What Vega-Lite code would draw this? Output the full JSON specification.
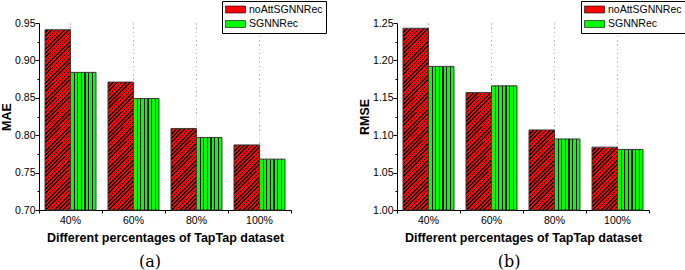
{
  "$schema": "https://vega.github.io/schema/vega-lite/v6.json",
  "padding": {"left": 0, "top": 0, "right": 0, "bottom": 0},
  "background": "#ffffff",
  "datasets": {
    "mae": [
      {"pct": "40%", "model": "noAttSGNNRec", "value": 0.941},
      {"pct": "40%", "model": "SGNNRec", "value": 0.884},
      {"pct": "60%", "model": "noAttSGNNRec", "value": 0.871},
      {"pct": "60%", "model": "SGNNRec", "value": 0.849},
      {"pct": "80%", "model": "noAttSGNNRec", "value": 0.809},
      {"pct": "80%", "model": "SGNNRec", "value": 0.797},
      {"pct": "100%", "model": "noAttSGNNRec", "value": 0.787},
      {"pct": "100%", "model": "SGNNRec", "value": 0.768}
    ],
    "rmse": [
      {"pct": "40%", "model": "noAttSGNNRec", "value": 1.243},
      {"pct": "40%", "model": "SGNNRec", "value": 1.192},
      {"pct": "60%", "model": "noAttSGNNRec", "value": 1.157},
      {"pct": "60%", "model": "SGNNRec", "value": 1.166},
      {"pct": "80%", "model": "noAttSGNNRec", "value": 1.107},
      {"pct": "80%", "model": "SGNNRec", "value": 1.095},
      {"pct": "100%", "model": "noAttSGNNRec", "value": 1.084},
      {"pct": "100%", "model": "SGNNRec", "value": 1.081}
    ]
  },
  "spacing": 31,
  "resolve": {"scale": {"fill": "independent", "y": "independent"}, "legend": {"fill": "independent"}},
  "hconcat": [
    {
      "width": 252,
      "height": 187,
      "data": {"name": "mae"},
      "title": {"text": "(a)", "orient": "bottom", "anchor": "middle", "frame": "group", "offset": 10, "dx": -15},
      "resolve": {"axis": {"y": "independent"}},
      "encoding": {
        "x": {"field": "pct", "type": "nominal", "sort": ["40%", "60%", "80%", "100%"], "scale": {"paddingInner": 0, "paddingOuter": 0}, "axis": {"title": "Different percentages of TapTap dataset", "grid": false, "labelAngle": 0, "bandPosition": 1, "tickExtra": true, "tickSize": 3, "labelPadding": 2, "titlePadding": 6}},
        "xOffset": {"field": "model", "type": "nominal", "sort": ["noAttSGNNRec", "SGNNRec"], "scale": {"domain": ["noAttSGNNRec", "SGNNRec"], "paddingInner": 0, "paddingOuter": 0.2353}}
      },
      "layer": [
        {
          "mark": {"type": "bar", "strokeWidth": 0},
          "encoding": {
            "y": {"field": "value", "type": "quantitative", "scale": {"domain": [0.7, 0.95], "nice": false, "zero": false}, "axis": {"title": "MAE", "grid": false, "labelPadding": 0, "titlePadding": 1, "values": [0.7, 0.725, 0.75, 0.775, 0.8, 0.825, 0.85, 0.875, 0.9, 0.925, 0.95], "labelExpr": "round(datum.value*40)%2===0 ? format(datum.value,'.2f') : ''", "tickSize": {"condition": {"test": "round(datum.value*40)%2===0", "value": 4}, "value": 2}}},
            "y2": {"datum": 0.7},
            "fill": {"field": "model", "type": "nominal", "scale": {"domain": ["noAttSGNNRec", "SGNNRec"], "range": ["#ff0000", "#00ff00"]}, "legend": {"legendX": 183}}
          }
        },
        {
          "transform": [{"filter": "datum.model === 'SGNNRec'"}],
          "mark": {"type": "bar", "strokeWidth": 0, "fill": {"gradient": "linear", "x1": 0, "y1": 0, "x2": 1, "y2": 0, "stops": [
            {"offset": 0, "color": "rgba(0,0,0,0)"}, {"offset": 0.1189, "color": "rgba(0,0,0,0)"}, {"offset": 0.1189, "color": "#000"}, {"offset": 0.1669, "color": "#000"}, {"offset": 0.1669, "color": "rgba(0,0,0,0)"},
            {"offset": 0.2617, "color": "rgba(0,0,0,0)"}, {"offset": 0.2617, "color": "#000"}, {"offset": 0.3097, "color": "#000"}, {"offset": 0.3097, "color": "rgba(0,0,0,0)"},
            {"offset": 0.4046, "color": "rgba(0,0,0,0)"}, {"offset": 0.4046, "color": "#000"}, {"offset": 0.4526, "color": "#000"}, {"offset": 0.4526, "color": "rgba(0,0,0,0)"},
            {"offset": 0.5474, "color": "rgba(0,0,0,0)"}, {"offset": 0.5474, "color": "#000"}, {"offset": 0.5954, "color": "#000"}, {"offset": 0.5954, "color": "rgba(0,0,0,0)"},
            {"offset": 0.6903, "color": "rgba(0,0,0,0)"}, {"offset": 0.6903, "color": "#000"}, {"offset": 0.7383, "color": "#000"}, {"offset": 0.7383, "color": "rgba(0,0,0,0)"},
            {"offset": 0.8331, "color": "rgba(0,0,0,0)"}, {"offset": 0.8331, "color": "#000"}, {"offset": 0.8811, "color": "#000"}, {"offset": 0.8811, "color": "rgba(0,0,0,0)"},
            {"offset": 1, "color": "rgba(0,0,0,0)"}
          ]}},
          "encoding": {"y": {"field": "value", "type": "quantitative", "axis": null}, "y2": {"datum": 0.7}}
        },
        {
          "transform": [{"filter": "datum.model === 'noAttSGNNRec'"}],
          "mark": {"type": "bar", "strokeWidth": 0, "fill": {"gradient": "linear", "x1": 0, "y1": 0, "x2": 0.1521, "y2": 1.1156, "stops": [
          {"offset": 0, "color": "#000"}, {"offset": 0.0075, "color": "#000"}, {"offset": 0.0075, "color": "rgba(0,0,0,0)"}, {"offset": 0.02, "color": "rgba(0,0,0,0)"},
          {"offset": 0.02, "color": "#000"}, {"offset": 0.0275, "color": "#000"}, {"offset": 0.0275, "color": "rgba(0,0,0,0)"}, {"offset": 0.04, "color": "rgba(0,0,0,0)"},
          {"offset": 0.04, "color": "#000"}, {"offset": 0.0475, "color": "#000"}, {"offset": 0.0475, "color": "rgba(0,0,0,0)"}, {"offset": 0.06, "color": "rgba(0,0,0,0)"},
          {"offset": 0.06, "color": "#000"}, {"offset": 0.0675, "color": "#000"}, {"offset": 0.0675, "color": "rgba(0,0,0,0)"}, {"offset": 0.08, "color": "rgba(0,0,0,0)"},
          {"offset": 0.08, "color": "#000"}, {"offset": 0.0875, "color": "#000"}, {"offset": 0.0875, "color": "rgba(0,0,0,0)"}, {"offset": 0.1, "color": "rgba(0,0,0,0)"},
          {"offset": 0.1, "color": "#000"}, {"offset": 0.1075, "color": "#000"}, {"offset": 0.1075, "color": "rgba(0,0,0,0)"}, {"offset": 0.12, "color": "rgba(0,0,0,0)"},
          {"offset": 0.12, "color": "#000"}, {"offset": 0.1275, "color": "#000"}, {"offset": 0.1275, "color": "rgba(0,0,0,0)"}, {"offset": 0.14, "color": "rgba(0,0,0,0)"},
          {"offset": 0.14, "color": "#000"}, {"offset": 0.1475, "color": "#000"}, {"offset": 0.1475, "color": "rgba(0,0,0,0)"}, {"offset": 0.16, "color": "rgba(0,0,0,0)"},
          {"offset": 0.16, "color": "#000"}, {"offset": 0.1675, "color": "#000"}, {"offset": 0.1675, "color": "rgba(0,0,0,0)"}, {"offset": 0.18, "color": "rgba(0,0,0,0)"},
          {"offset": 0.18, "color": "#000"}, {"offset": 0.1875, "color": "#000"}, {"offset": 0.1875, "color": "rgba(0,0,0,0)"}, {"offset": 0.2, "color": "rgba(0,0,0,0)"},
          {"offset": 0.2, "color": "#000"}, {"offset": 0.2075, "color": "#000"}, {"offset": 0.2075, "color": "rgba(0,0,0,0)"}, {"offset": 0.22, "color": "rgba(0,0,0,0)"},
          {"offset": 0.22, "color": "#000"}, {"offset": 0.2275, "color": "#000"}, {"offset": 0.2275, "color": "rgba(0,0,0,0)"}, {"offset": 0.24, "color": "rgba(0,0,0,0)"},
          {"offset": 0.24, "color": "#000"}, {"offset": 0.2475, "color": "#000"}, {"offset": 0.2475, "color": "rgba(0,0,0,0)"}, {"offset": 0.26, "color": "rgba(0,0,0,0)"},
          {"offset": 0.26, "color": "#000"}, {"offset": 0.2675, "color": "#000"}, {"offset": 0.2675, "color": "rgba(0,0,0,0)"}, {"offset": 0.28, "color": "rgba(0,0,0,0)"},
          {"offset": 0.28, "color": "#000"}, {"offset": 0.2875, "color": "#000"}, {"offset": 0.2875, "color": "rgba(0,0,0,0)"}, {"offset": 0.3, "color": "rgba(0,0,0,0)"},
          {"offset": 0.3, "color": "#000"}, {"offset": 0.3075, "color": "#000"}, {"offset": 0.3075, "color": "rgba(0,0,0,0)"}, {"offset": 0.32, "color": "rgba(0,0,0,0)"},
          {"offset": 0.32, "color": "#000"}, {"offset": 0.3275, "color": "#000"}, {"offset": 0.3275, "color": "rgba(0,0,0,0)"}, {"offset": 0.34, "color": "rgba(0,0,0,0)"},
          {"offset": 0.34, "color": "#000"}, {"offset": 0.3475, "color": "#000"}, {"offset": 0.3475, "color": "rgba(0,0,0,0)"}, {"offset": 0.36, "color": "rgba(0,0,0,0)"},
          {"offset": 0.36, "color": "#000"}, {"offset": 0.3675, "color": "#000"}, {"offset": 0.3675, "color": "rgba(0,0,0,0)"}, {"offset": 0.38, "color": "rgba(0,0,0,0)"},
          {"offset": 0.38, "color": "#000"}, {"offset": 0.3875, "color": "#000"}, {"offset": 0.3875, "color": "rgba(0,0,0,0)"}, {"offset": 0.4, "color": "rgba(0,0,0,0)"},
          {"offset": 0.4, "color": "#000"}, {"offset": 0.4075, "color": "#000"}, {"offset": 0.4075, "color": "rgba(0,0,0,0)"}, {"offset": 0.42, "color": "rgba(0,0,0,0)"},
          {"offset": 0.42, "color": "#000"}, {"offset": 0.4275, "color": "#000"}, {"offset": 0.4275, "color": "rgba(0,0,0,0)"}, {"offset": 0.44, "color": "rgba(0,0,0,0)"},
          {"offset": 0.44, "color": "#000"}, {"offset": 0.4475, "color": "#000"}, {"offset": 0.4475, "color": "rgba(0,0,0,0)"}, {"offset": 0.46, "color": "rgba(0,0,0,0)"},
          {"offset": 0.46, "color": "#000"}, {"offset": 0.4675, "color": "#000"}, {"offset": 0.4675, "color": "rgba(0,0,0,0)"}, {"offset": 0.48, "color": "rgba(0,0,0,0)"},
          {"offset": 0.48, "color": "#000"}, {"offset": 0.4875, "color": "#000"}, {"offset": 0.4875, "color": "rgba(0,0,0,0)"}, {"offset": 0.5, "color": "rgba(0,0,0,0)"},
          {"offset": 0.5, "color": "#000"}, {"offset": 0.5075, "color": "#000"}, {"offset": 0.5075, "color": "rgba(0,0,0,0)"}, {"offset": 0.52, "color": "rgba(0,0,0,0)"},
          {"offset": 0.52, "color": "#000"}, {"offset": 0.5275, "color": "#000"}, {"offset": 0.5275, "color": "rgba(0,0,0,0)"}, {"offset": 0.54, "color": "rgba(0,0,0,0)"},
          {"offset": 0.54, "color": "#000"}, {"offset": 0.5475, "color": "#000"}, {"offset": 0.5475, "color": "rgba(0,0,0,0)"}, {"offset": 0.56, "color": "rgba(0,0,0,0)"},
          {"offset": 0.56, "color": "#000"}, {"offset": 0.5675, "color": "#000"}, {"offset": 0.5675, "color": "rgba(0,0,0,0)"}, {"offset": 0.58, "color": "rgba(0,0,0,0)"},
          {"offset": 0.58, "color": "#000"}, {"offset": 0.5875, "color": "#000"}, {"offset": 0.5875, "color": "rgba(0,0,0,0)"}, {"offset": 0.6, "color": "rgba(0,0,0,0)"},
          {"offset": 0.6, "color": "#000"}, {"offset": 0.6075, "color": "#000"}, {"offset": 0.6075, "color": "rgba(0,0,0,0)"}, {"offset": 0.62, "color": "rgba(0,0,0,0)"},
          {"offset": 0.62, "color": "#000"}, {"offset": 0.6275, "color": "#000"}, {"offset": 0.6275, "color": "rgba(0,0,0,0)"}, {"offset": 0.64, "color": "rgba(0,0,0,0)"},
          {"offset": 0.64, "color": "#000"}, {"offset": 0.6475, "color": "#000"}, {"offset": 0.6475, "color": "rgba(0,0,0,0)"}, {"offset": 0.66, "color": "rgba(0,0,0,0)"},
          {"offset": 0.66, "color": "#000"}, {"offset": 0.6675, "color": "#000"}, {"offset": 0.6675, "color": "rgba(0,0,0,0)"}, {"offset": 0.68, "color": "rgba(0,0,0,0)"},
          {"offset": 0.68, "color": "#000"}, {"offset": 0.6875, "color": "#000"}, {"offset": 0.6875, "color": "rgba(0,0,0,0)"}, {"offset": 0.7, "color": "rgba(0,0,0,0)"},
          {"offset": 0.7, "color": "#000"}, {"offset": 0.7075, "color": "#000"}, {"offset": 0.7075, "color": "rgba(0,0,0,0)"}, {"offset": 0.72, "color": "rgba(0,0,0,0)"},
          {"offset": 0.72, "color": "#000"}, {"offset": 0.7275, "color": "#000"}, {"offset": 0.7275, "color": "rgba(0,0,0,0)"}, {"offset": 0.74, "color": "rgba(0,0,0,0)"},
          {"offset": 0.74, "color": "#000"}, {"offset": 0.7475, "color": "#000"}, {"offset": 0.7475, "color": "rgba(0,0,0,0)"}, {"offset": 0.76, "color": "rgba(0,0,0,0)"},
          {"offset": 0.76, "color": "#000"}, {"offset": 0.7675, "color": "#000"}, {"offset": 0.7675, "color": "rgba(0,0,0,0)"}, {"offset": 0.78, "color": "rgba(0,0,0,0)"},
          {"offset": 0.78, "color": "#000"}, {"offset": 0.7875, "color": "#000"}, {"offset": 0.7875, "color": "rgba(0,0,0,0)"}, {"offset": 0.8, "color": "rgba(0,0,0,0)"},
          {"offset": 0.8, "color": "#000"}, {"offset": 0.8075, "color": "#000"}, {"offset": 0.8075, "color": "rgba(0,0,0,0)"}, {"offset": 0.82, "color": "rgba(0,0,0,0)"},
          {"offset": 0.82, "color": "#000"}, {"offset": 0.8275, "color": "#000"}, {"offset": 0.8275, "color": "rgba(0,0,0,0)"}, {"offset": 0.84, "color": "rgba(0,0,0,0)"},
          {"offset": 0.84, "color": "#000"}, {"offset": 0.8475, "color": "#000"}, {"offset": 0.8475, "color": "rgba(0,0,0,0)"}, {"offset": 0.86, "color": "rgba(0,0,0,0)"},
          {"offset": 0.86, "color": "#000"}, {"offset": 0.8675, "color": "#000"}, {"offset": 0.8675, "color": "rgba(0,0,0,0)"}, {"offset": 0.88, "color": "rgba(0,0,0,0)"},
          {"offset": 0.88, "color": "#000"}, {"offset": 0.8875, "color": "#000"}, {"offset": 0.8875, "color": "rgba(0,0,0,0)"}, {"offset": 0.9, "color": "rgba(0,0,0,0)"},
          {"offset": 0.9, "color": "#000"}, {"offset": 0.9075, "color": "#000"}, {"offset": 0.9075, "color": "rgba(0,0,0,0)"}, {"offset": 0.92, "color": "rgba(0,0,0,0)"},
          {"offset": 0.92, "color": "#000"}, {"offset": 0.9275, "color": "#000"}, {"offset": 0.9275, "color": "rgba(0,0,0,0)"}, {"offset": 0.94, "color": "rgba(0,0,0,0)"},
          {"offset": 0.94, "color": "#000"}, {"offset": 0.9475, "color": "#000"}, {"offset": 0.9475, "color": "rgba(0,0,0,0)"}, {"offset": 0.96, "color": "rgba(0,0,0,0)"},
          {"offset": 0.96, "color": "#000"}, {"offset": 0.9675, "color": "#000"}, {"offset": 0.9675, "color": "rgba(0,0,0,0)"}, {"offset": 0.98, "color": "rgba(0,0,0,0)"},
          {"offset": 0.98, "color": "#000"}, {"offset": 0.9875, "color": "#000"}, {"offset": 0.9875, "color": "rgba(0,0,0,0)"}, {"offset": 1, "color": "rgba(0,0,0,0)"}
          ]}},
          "encoding": {"y": {"datum": 0.95, "type": "quantitative", "axis": null}, "y2": {"datum": 0.7}}
        },
        {
          "transform": [{"filter": "datum.model === 'noAttSGNNRec'"}],
          "mark": {"type": "bar", "fill": "#ffffff", "strokeWidth": 0},
          "encoding": {"y": {"field": "value", "type": "quantitative", "axis": null}, "y2": {"datum": 0.95}}
        },
        {
          "mark": {"type": "bar", "fill": "transparent", "stroke": "#3a3a3a", "strokeWidth": 1},
          "encoding": {"y": {"field": "value", "type": "quantitative", "axis": null}, "y2": {"datum": 0.7}}
        }
      ]
    },
    {
      "width": 252,
      "height": 187,
      "data": {"name": "rmse"},
      "title": {"text": "(b)", "orient": "bottom", "anchor": "middle", "frame": "group", "offset": 10, "dx": -14},
      "resolve": {"axis": {"y": "independent"}},
      "encoding": {
        "x": {"field": "pct", "type": "nominal", "sort": ["40%", "60%", "80%", "100%"], "scale": {"paddingInner": 0, "paddingOuter": 0}, "axis": {"title": "Different percentages of TapTap dataset", "grid": false, "labelAngle": 0, "bandPosition": 1, "tickExtra": true, "tickSize": 3, "labelPadding": 2, "titlePadding": 6}},
        "xOffset": {"field": "model", "type": "nominal", "sort": ["noAttSGNNRec", "SGNNRec"], "scale": {"domain": ["noAttSGNNRec", "SGNNRec"], "paddingInner": 0, "paddingOuter": 0.2353}}
      },
      "layer": [
        {
          "mark": {"type": "bar", "strokeWidth": 0},
          "encoding": {
            "y": {"field": "value", "type": "quantitative", "scale": {"domain": [1.0, 1.25], "nice": false, "zero": false}, "axis": {"title": "RMSE", "grid": false, "labelPadding": 0, "titlePadding": 1, "values": [1, 1.025, 1.05, 1.075, 1.1, 1.125, 1.15, 1.175, 1.2, 1.225, 1.25], "labelExpr": "round(datum.value*40)%2===0 ? format(datum.value,'.2f') : ''", "tickSize": {"condition": {"test": "round(datum.value*40)%2===0", "value": 4}, "value": 2}}},
            "y2": {"datum": 1.0},
            "fill": {"field": "model", "type": "nominal", "scale": {"domain": ["noAttSGNNRec", "SGNNRec"], "range": ["#ff0000", "#00ff00"]}, "legend": {"legendX": 184}}
          }
        },
        {
          "transform": [{"filter": "datum.model === 'SGNNRec'"}],
          "mark": {"type": "bar", "strokeWidth": 0, "fill": {"gradient": "linear", "x1": 0, "y1": 0, "x2": 1, "y2": 0, "stops": [
            {"offset": 0, "color": "rgba(0,0,0,0)"}, {"offset": 0.1189, "color": "rgba(0,0,0,0)"}, {"offset": 0.1189, "color": "#000"}, {"offset": 0.1669, "color": "#000"}, {"offset": 0.1669, "color": "rgba(0,0,0,0)"},
            {"offset": 0.2617, "color": "rgba(0,0,0,0)"}, {"offset": 0.2617, "color": "#000"}, {"offset": 0.3097, "color": "#000"}, {"offset": 0.3097, "color": "rgba(0,0,0,0)"},
            {"offset": 0.4046, "color": "rgba(0,0,0,0)"}, {"offset": 0.4046, "color": "#000"}, {"offset": 0.4526, "color": "#000"}, {"offset": 0.4526, "color": "rgba(0,0,0,0)"},
            {"offset": 0.5474, "color": "rgba(0,0,0,0)"}, {"offset": 0.5474, "color": "#000"}, {"offset": 0.5954, "color": "#000"}, {"offset": 0.5954, "color": "rgba(0,0,0,0)"},
            {"offset": 0.6903, "color": "rgba(0,0,0,0)"}, {"offset": 0.6903, "color": "#000"}, {"offset": 0.7383, "color": "#000"}, {"offset": 0.7383, "color": "rgba(0,0,0,0)"},
            {"offset": 0.8331, "color": "rgba(0,0,0,0)"}, {"offset": 0.8331, "color": "#000"}, {"offset": 0.8811, "color": "#000"}, {"offset": 0.8811, "color": "rgba(0,0,0,0)"},
            {"offset": 1, "color": "rgba(0,0,0,0)"}
          ]}},
          "encoding": {"y": {"field": "value", "type": "quantitative", "axis": null}, "y2": {"datum": 1.0}}
        },
        {
          "transform": [{"filter": "datum.model === 'noAttSGNNRec'"}],
          "mark": {"type": "bar", "strokeWidth": 0, "fill": {"gradient": "linear", "x1": 0, "y1": 0, "x2": 0.1521, "y2": 1.1156, "stops": [
          {"offset": 0, "color": "#000"}, {"offset": 0.0075, "color": "#000"}, {"offset": 0.0075, "color": "rgba(0,0,0,0)"}, {"offset": 0.02, "color": "rgba(0,0,0,0)"},
          {"offset": 0.02, "color": "#000"}, {"offset": 0.0275, "color": "#000"}, {"offset": 0.0275, "color": "rgba(0,0,0,0)"}, {"offset": 0.04, "color": "rgba(0,0,0,0)"},
          {"offset": 0.04, "color": "#000"}, {"offset": 0.0475, "color": "#000"}, {"offset": 0.0475, "color": "rgba(0,0,0,0)"}, {"offset": 0.06, "color": "rgba(0,0,0,0)"},
          {"offset": 0.06, "color": "#000"}, {"offset": 0.0675, "color": "#000"}, {"offset": 0.0675, "color": "rgba(0,0,0,0)"}, {"offset": 0.08, "color": "rgba(0,0,0,0)"},
          {"offset": 0.08, "color": "#000"}, {"offset": 0.0875, "color": "#000"}, {"offset": 0.0875, "color": "rgba(0,0,0,0)"}, {"offset": 0.1, "color": "rgba(0,0,0,0)"},
          {"offset": 0.1, "color": "#000"}, {"offset": 0.1075, "color": "#000"}, {"offset": 0.1075, "color": "rgba(0,0,0,0)"}, {"offset": 0.12, "color": "rgba(0,0,0,0)"},
          {"offset": 0.12, "color": "#000"}, {"offset": 0.1275, "color": "#000"}, {"offset": 0.1275, "color": "rgba(0,0,0,0)"}, {"offset": 0.14, "color": "rgba(0,0,0,0)"},
          {"offset": 0.14, "color": "#000"}, {"offset": 0.1475, "color": "#000"}, {"offset": 0.1475, "color": "rgba(0,0,0,0)"}, {"offset": 0.16, "color": "rgba(0,0,0,0)"},
          {"offset": 0.16, "color": "#000"}, {"offset": 0.1675, "color": "#000"}, {"offset": 0.1675, "color": "rgba(0,0,0,0)"}, {"offset": 0.18, "color": "rgba(0,0,0,0)"},
          {"offset": 0.18, "color": "#000"}, {"offset": 0.1875, "color": "#000"}, {"offset": 0.1875, "color": "rgba(0,0,0,0)"}, {"offset": 0.2, "color": "rgba(0,0,0,0)"},
          {"offset": 0.2, "color": "#000"}, {"offset": 0.2075, "color": "#000"}, {"offset": 0.2075, "color": "rgba(0,0,0,0)"}, {"offset": 0.22, "color": "rgba(0,0,0,0)"},
          {"offset": 0.22, "color": "#000"}, {"offset": 0.2275, "color": "#000"}, {"offset": 0.2275, "color": "rgba(0,0,0,0)"}, {"offset": 0.24, "color": "rgba(0,0,0,0)"},
          {"offset": 0.24, "color": "#000"}, {"offset": 0.2475, "color": "#000"}, {"offset": 0.2475, "color": "rgba(0,0,0,0)"}, {"offset": 0.26, "color": "rgba(0,0,0,0)"},
          {"offset": 0.26, "color": "#000"}, {"offset": 0.2675, "color": "#000"}, {"offset": 0.2675, "color": "rgba(0,0,0,0)"}, {"offset": 0.28, "color": "rgba(0,0,0,0)"},
          {"offset": 0.28, "color": "#000"}, {"offset": 0.2875, "color": "#000"}, {"offset": 0.2875, "color": "rgba(0,0,0,0)"}, {"offset": 0.3, "color": "rgba(0,0,0,0)"},
          {"offset": 0.3, "color": "#000"}, {"offset": 0.3075, "color": "#000"}, {"offset": 0.3075, "color": "rgba(0,0,0,0)"}, {"offset": 0.32, "color": "rgba(0,0,0,0)"},
          {"offset": 0.32, "color": "#000"}, {"offset": 0.3275, "color": "#000"}, {"offset": 0.3275, "color": "rgba(0,0,0,0)"}, {"offset": 0.34, "color": "rgba(0,0,0,0)"},
          {"offset": 0.34, "color": "#000"}, {"offset": 0.3475, "color": "#000"}, {"offset": 0.3475, "color": "rgba(0,0,0,0)"}, {"offset": 0.36, "color": "rgba(0,0,0,0)"},
          {"offset": 0.36, "color": "#000"}, {"offset": 0.3675, "color": "#000"}, {"offset": 0.3675, "color": "rgba(0,0,0,0)"}, {"offset": 0.38, "color": "rgba(0,0,0,0)"},
          {"offset": 0.38, "color": "#000"}, {"offset": 0.3875, "color": "#000"}, {"offset": 0.3875, "color": "rgba(0,0,0,0)"}, {"offset": 0.4, "color": "rgba(0,0,0,0)"},
          {"offset": 0.4, "color": "#000"}, {"offset": 0.4075, "color": "#000"}, {"offset": 0.4075, "color": "rgba(0,0,0,0)"}, {"offset": 0.42, "color": "rgba(0,0,0,0)"},
          {"offset": 0.42, "color": "#000"}, {"offset": 0.4275, "color": "#000"}, {"offset": 0.4275, "color": "rgba(0,0,0,0)"}, {"offset": 0.44, "color": "rgba(0,0,0,0)"},
          {"offset": 0.44, "color": "#000"}, {"offset": 0.4475, "color": "#000"}, {"offset": 0.4475, "color": "rgba(0,0,0,0)"}, {"offset": 0.46, "color": "rgba(0,0,0,0)"},
          {"offset": 0.46, "color": "#000"}, {"offset": 0.4675, "color": "#000"}, {"offset": 0.4675, "color": "rgba(0,0,0,0)"}, {"offset": 0.48, "color": "rgba(0,0,0,0)"},
          {"offset": 0.48, "color": "#000"}, {"offset": 0.4875, "color": "#000"}, {"offset": 0.4875, "color": "rgba(0,0,0,0)"}, {"offset": 0.5, "color": "rgba(0,0,0,0)"},
          {"offset": 0.5, "color": "#000"}, {"offset": 0.5075, "color": "#000"}, {"offset": 0.5075, "color": "rgba(0,0,0,0)"}, {"offset": 0.52, "color": "rgba(0,0,0,0)"},
          {"offset": 0.52, "color": "#000"}, {"offset": 0.5275, "color": "#000"}, {"offset": 0.5275, "color": "rgba(0,0,0,0)"}, {"offset": 0.54, "color": "rgba(0,0,0,0)"},
          {"offset": 0.54, "color": "#000"}, {"offset": 0.5475, "color": "#000"}, {"offset": 0.5475, "color": "rgba(0,0,0,0)"}, {"offset": 0.56, "color": "rgba(0,0,0,0)"},
          {"offset": 0.56, "color": "#000"}, {"offset": 0.5675, "color": "#000"}, {"offset": 0.5675, "color": "rgba(0,0,0,0)"}, {"offset": 0.58, "color": "rgba(0,0,0,0)"},
          {"offset": 0.58, "color": "#000"}, {"offset": 0.5875, "color": "#000"}, {"offset": 0.5875, "color": "rgba(0,0,0,0)"}, {"offset": 0.6, "color": "rgba(0,0,0,0)"},
          {"offset": 0.6, "color": "#000"}, {"offset": 0.6075, "color": "#000"}, {"offset": 0.6075, "color": "rgba(0,0,0,0)"}, {"offset": 0.62, "color": "rgba(0,0,0,0)"},
          {"offset": 0.62, "color": "#000"}, {"offset": 0.6275, "color": "#000"}, {"offset": 0.6275, "color": "rgba(0,0,0,0)"}, {"offset": 0.64, "color": "rgba(0,0,0,0)"},
          {"offset": 0.64, "color": "#000"}, {"offset": 0.6475, "color": "#000"}, {"offset": 0.6475, "color": "rgba(0,0,0,0)"}, {"offset": 0.66, "color": "rgba(0,0,0,0)"},
          {"offset": 0.66, "color": "#000"}, {"offset": 0.6675, "color": "#000"}, {"offset": 0.6675, "color": "rgba(0,0,0,0)"}, {"offset": 0.68, "color": "rgba(0,0,0,0)"},
          {"offset": 0.68, "color": "#000"}, {"offset": 0.6875, "color": "#000"}, {"offset": 0.6875, "color": "rgba(0,0,0,0)"}, {"offset": 0.7, "color": "rgba(0,0,0,0)"},
          {"offset": 0.7, "color": "#000"}, {"offset": 0.7075, "color": "#000"}, {"offset": 0.7075, "color": "rgba(0,0,0,0)"}, {"offset": 0.72, "color": "rgba(0,0,0,0)"},
          {"offset": 0.72, "color": "#000"}, {"offset": 0.7275, "color": "#000"}, {"offset": 0.7275, "color": "rgba(0,0,0,0)"}, {"offset": 0.74, "color": "rgba(0,0,0,0)"},
          {"offset": 0.74, "color": "#000"}, {"offset": 0.7475, "color": "#000"}, {"offset": 0.7475, "color": "rgba(0,0,0,0)"}, {"offset": 0.76, "color": "rgba(0,0,0,0)"},
          {"offset": 0.76, "color": "#000"}, {"offset": 0.7675, "color": "#000"}, {"offset": 0.7675, "color": "rgba(0,0,0,0)"}, {"offset": 0.78, "color": "rgba(0,0,0,0)"},
          {"offset": 0.78, "color": "#000"}, {"offset": 0.7875, "color": "#000"}, {"offset": 0.7875, "color": "rgba(0,0,0,0)"}, {"offset": 0.8, "color": "rgba(0,0,0,0)"},
          {"offset": 0.8, "color": "#000"}, {"offset": 0.8075, "color": "#000"}, {"offset": 0.8075, "color": "rgba(0,0,0,0)"}, {"offset": 0.82, "color": "rgba(0,0,0,0)"},
          {"offset": 0.82, "color": "#000"}, {"offset": 0.8275, "color": "#000"}, {"offset": 0.8275, "color": "rgba(0,0,0,0)"}, {"offset": 0.84, "color": "rgba(0,0,0,0)"},
          {"offset": 0.84, "color": "#000"}, {"offset": 0.8475, "color": "#000"}, {"offset": 0.8475, "color": "rgba(0,0,0,0)"}, {"offset": 0.86, "color": "rgba(0,0,0,0)"},
          {"offset": 0.86, "color": "#000"}, {"offset": 0.8675, "color": "#000"}, {"offset": 0.8675, "color": "rgba(0,0,0,0)"}, {"offset": 0.88, "color": "rgba(0,0,0,0)"},
          {"offset": 0.88, "color": "#000"}, {"offset": 0.8875, "color": "#000"}, {"offset": 0.8875, "color": "rgba(0,0,0,0)"}, {"offset": 0.9, "color": "rgba(0,0,0,0)"},
          {"offset": 0.9, "color": "#000"}, {"offset": 0.9075, "color": "#000"}, {"offset": 0.9075, "color": "rgba(0,0,0,0)"}, {"offset": 0.92, "color": "rgba(0,0,0,0)"},
          {"offset": 0.92, "color": "#000"}, {"offset": 0.9275, "color": "#000"}, {"offset": 0.9275, "color": "rgba(0,0,0,0)"}, {"offset": 0.94, "color": "rgba(0,0,0,0)"},
          {"offset": 0.94, "color": "#000"}, {"offset": 0.9475, "color": "#000"}, {"offset": 0.9475, "color": "rgba(0,0,0,0)"}, {"offset": 0.96, "color": "rgba(0,0,0,0)"},
          {"offset": 0.96, "color": "#000"}, {"offset": 0.9675, "color": "#000"}, {"offset": 0.9675, "color": "rgba(0,0,0,0)"}, {"offset": 0.98, "color": "rgba(0,0,0,0)"},
          {"offset": 0.98, "color": "#000"}, {"offset": 0.9875, "color": "#000"}, {"offset": 0.9875, "color": "rgba(0,0,0,0)"}, {"offset": 1, "color": "rgba(0,0,0,0)"}
          ]}},
          "encoding": {"y": {"datum": 1.25, "type": "quantitative", "axis": null}, "y2": {"datum": 1.0}}
        },
        {
          "transform": [{"filter": "datum.model === 'noAttSGNNRec'"}],
          "mark": {"type": "bar", "fill": "#ffffff", "strokeWidth": 0},
          "encoding": {"y": {"field": "value", "type": "quantitative", "axis": null}, "y2": {"datum": 1.25}}
        },
        {
          "mark": {"type": "bar", "fill": "transparent", "stroke": "#3a3a3a", "strokeWidth": 1},
          "encoding": {"y": {"field": "value", "type": "quantitative", "axis": null}, "y2": {"datum": 1.0}}
        }
      ]
    }
  ],
  "config": {
    "view": {"stroke": null},
    "font": "Liberation Sans",
    "axis": {"grid": false, "domainColor": "#000", "tickColor": "#000", "labelColor": "#000", "labelFont": "Liberation Sans", "labelFontSize": 10.5, "titleFont": "Liberation Sans", "titleFontSize": 12.5, "titleFontWeight": "bold", "titleColor": "#000", "labelPadding": 2, "titlePadding": 2, "domainWidth": 1, "tickWidth": 1},
    "title": {"font": "DejaVu Serif", "fontSize": 16, "fontWeight": "normal", "color": "#000"},
    "legend": {
      "title": null,
      "orient": "none",
      "legendY": -22,
      "strokeColor": "#000",
      "fillColor": "#ffffff",
      "padding": 3,
      "symbolType": "M-2,-0.7L2,-0.7L2,0.7L-2,0.7Z",
      "symbolSize": 100,
      "symbolOffset": 5,
      "symbolStrokeColor": "#000",
      "symbolStrokeWidth": 0.6,
      "symbolOpacity": 1,
      "labelFont": "Liberation Sans",
      "labelFontSize": 10.5,
      "labelColor": "#000",
      "labelOffset": 8,
      "rowPadding": 3.5
    }
  }
}
